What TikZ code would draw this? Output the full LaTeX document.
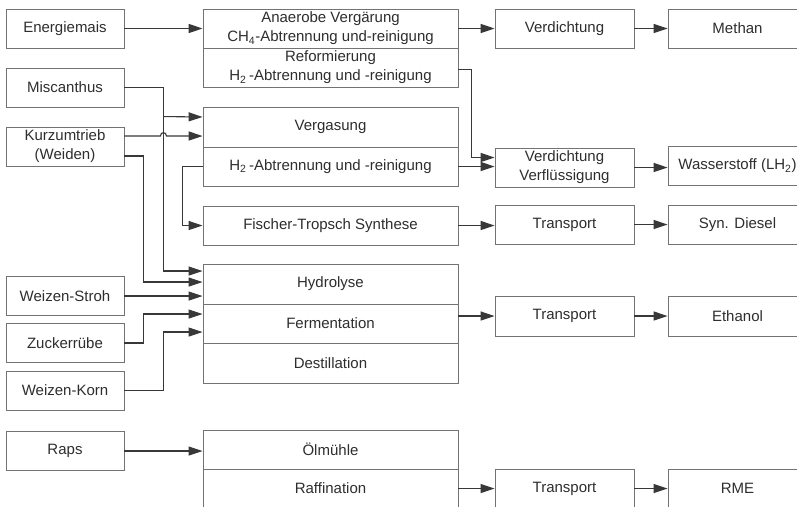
\documentclass[tikz,border=0pt]{standalone}
\usepackage{fontspec}
\setmainfont{Liberation Sans}
\usetikzlibrary{arrows.meta,calc}

\begin{document}
\begin{tikzpicture}[x=1pt,y=-1pt,
  font=\fontsize{15}{19}\selectfont,
  cell/.style={draw=black!55, line width=0.9pt, text=black!82, inner sep=0pt,
    align=center, minimum height=39pt},
  src/.style={cell, minimum width=118pt},
  proc/.style={cell, minimum width=255pt},
  step3/.style={cell, minimum width=139pt},
  prod/.style={cell, minimum width=139pt},
  arr/.style={draw=black!78, line width=1.1pt, -{Triangle[length=14pt,width=9pt]}},
  link/.style={draw=black!78, line width=1.1pt}]
\useasboundingbox (0,0) rectangle (797,506);
\clip (0,0) rectangle (797,506);
\fill[white] (0,0) rectangle (797,506);

% raw materials
\node[src] (energ) at (65,28.5)  {Energiemais};
\node[src] (misc)  at (65,87.5)  {Miscanthus};
\node[src] (kurz)  at (65,146.5) {Kurzumtrieb\\(Weiden)};
\node[src] (stroh) at (65,296)   {Weizen-Stroh};
\node[src] (zuck)  at (65,343)   {Zuckerrübe};
\node[src] (korn)  at (65,390.5) {Weizen-Korn};
\node[src] (raps)  at (65,451)   {Raps};

% conversion steps
\node[proc] (anae)   at (330.5,28.5)  {Anaerobe Vergärung\\CH\textsubscript{4}-Abtrennung und-reinigung};
\node[proc] (reform) at (330.5,67.5)  {Reformierung\\H\textsubscript{2}\,-Abtrennung und -reinigung};
\node[proc, minimum height=40pt] (verg) at (330.5,127) {Vergasung};
\node[proc] (h2a)    at (330.5,166.5) {H\textsubscript{2}\,-Abtrennung und -reinigung};
\node[proc] (ft)     at (330.5,225.5) {Fischer-Tropsch Synthese};
\node[proc, minimum height=40pt] (hyd)  at (330.5,284) {Hydrolyse};
\node[proc] (ferm)   at (330.5,323.5) {Fermentation};
\node[proc, minimum height=40pt] (dest) at (330.5,363) {Destillation};
\node[proc] (oel)    at (330.5,449.5) {Ölmühle};
\node[proc] (raff)   at (330.5,488.5) {Raffination};

% conditioning and transport
\node[step3] (verd)   at (564.5,28.5)  {Verdichtung};
\node[step3] (verdfl) at (564.5,167.5) {Verdichtung\\Verflüssigung};
\node[step3] (trA)    at (564.5,224.5) {Transport};
\node[step3, minimum height=40pt] (trB) at (564.5,316) {Transport};
\node[step3] (trC)    at (564.5,488.5) {Transport};

% fuels
\node[prod] (methan) at (737.5,28.5) {Methan};
\node[prod] (wasser) at (737.5,166)  {Wasserstoff (LH\textsubscript{2})};
\node[prod] (diesel) at (737.5,225)  {Syn. Diesel};
\node[prod, minimum height=40pt] (ethan) at (737.5,316) {Ethanol};
\node[prod] (rme)    at (737.5,488.5) {RME};

% biogas / methane chain
\draw[arr] (energ.east) -- (anae.west);
\draw[arr] (anae.east) -- (verd.west);
\draw[arr] (verd.east) -- (methan.west);

% hydrogen chain
\draw[arr] ([yshift=-2pt]reform.east) -- ++(13,0) |- ([yshift=10pt]verdfl.west);
\draw[arr] (h2a.east) -- (h2a.east -| verdfl.west);
\draw[arr] (verdfl.east) -- (verdfl.east -| wasser.west);

% Fischer-Tropsch chain
\draw[arr] (h2a.west) -- ++(-20,0) |- (ft.west);
\draw[arr] (ft.east) -- (ft.east -| trA.west);
\draw[arr] (trA.east) -- (trA.east -| diesel.west);

% lignocellulose inputs
\coordinate (mv) at ([xshift=39pt]misc.east);
\draw[arr] (misc.east) -- (mv) |- ([yshift=13pt]hyd.west);
\draw[arr] (mv |- verg.north) ++(0,10) -- ([yshift=10pt]verg.west);
\draw[arr] ([yshift=10.5pt]kurz.east) -- ([yshift=10.5pt,xshift=-3pt]kurz.east -| mv)
  .. controls +(0,-4.5) and +(0,-4.5) .. ++(6,0)
  -- ([yshift=10.5pt]kurz.east -| verg.west);
\draw[arr] ([yshift=-9.5pt]kurz.east) -- ++(19,0) |- ([yshift=2pt]hyd.west);
\draw[arr] (stroh.east) -- (stroh.east -| hyd.west);

% sugar and starch inputs
\draw[arr] (zuck.east) -- ++(19,0) |- ([yshift=9.5pt]ferm.west);
\draw[arr] (korn.east) -- ++(39,0) |- ([yshift=-8.5pt]ferm.west);

% ethanol chain
\draw[arr] (ferm.east |- trB.west) -- (trB.west);
\draw[arr] (trB.east) -- (ethan.west);

% rapeseed chain
\draw[arr] (raps.east) -- (raps.east -| oel.west);
\draw[arr] (raff.east) -- (trC.west);
\draw[arr] (trC.east) -- (rme.west);
\end{tikzpicture}
\end{document}
